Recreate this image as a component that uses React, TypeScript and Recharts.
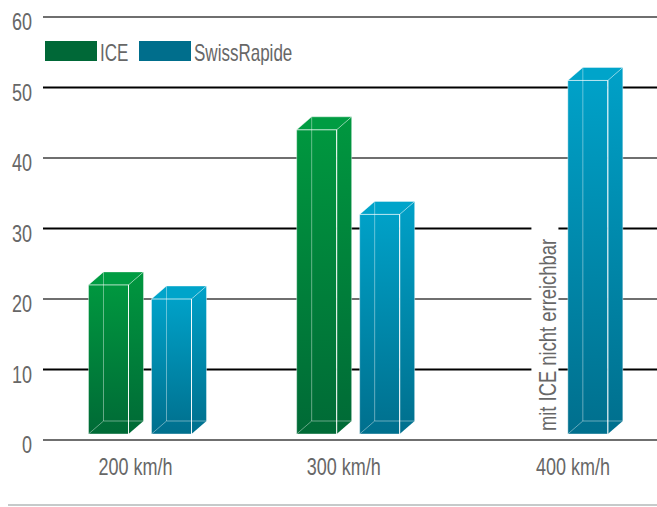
import React from "react";
import {
  BarChart,
  Bar,
  XAxis,
  YAxis,
  CartesianGrid,
  Legend,
  ReferenceLine,
} from "recharts";

const speeds = ["200 km/h", "300 km/h", "400 km/h"];
const iceValues = [22, 44, null];
const swissRapideValues = [20, 32, 51];
const yTicks = [0, 10, 20, 30, 40, 50, 60];
const noteText = "mit ICE nicht erreichbar";

const data = speeds.map((speed, i) => ({
  speed,
  ice: iceValues[i],
  swissRapide: swissRapideValues[i],
}));

// no condensed font installed, so Liberation Sans gets squeezed horizontally
const FONT = "'Liberation Sans', Arial, sans-serif";
const SQUEEZE = 0.75;
const TEXT_GREY = "#676767";

const SERIES = [
  {
    key: "ice",
    name: "ICE",
    swatch: "#006837",
    top: "#00973f",
    bottom: "#006a36",
    lid: "#009c42",
  },
  {
    key: "swissRapide",
    name: "SwissRapide",
    swatch: "#006e8c",
    top: "#00a1c8",
    bottom: "#006f8d",
    lid: "#00a4ca",
  },
];

// 3d box look
const DEPTH_X = 15;
const DEPTH_Y = 13;
const FLOOR_GAP = 6;
// x labels are not quite centred in the original
const TICK_SHIFT = [-4, -4, 17];

const NarrowText = ({
  x,
  y,
  size,
  anchor = "start",
  rotate = 0,
  squeeze = SQUEEZE,
  baseline,
  children,
}: any) => (
  <text
    transform={`translate(${x},${y}) rotate(${rotate}) scale(${squeeze},1)`}
    textAnchor={anchor}
    dominantBaseline={baseline}
    fill={TEXT_GREY}
    fontSize={size}
    fontFamily={FONT}
  >
    {children}
  </text>
);

function makeBoxShape(key: string, lid: string) {
  return (props: any) => {
    const { x, y, width, height, payload } = props;
    if (payload?.[key] == null || !(height > 0)) return <g />;
    const left = x;
    const right = x + width;
    const top = y;
    const bottom = y + height - FLOOR_GAP;
    const bx = DEPTH_X;
    const by = -DEPTH_Y;
    return (
      <g>
        <polygon
          points={`${right},${top} ${right + bx},${top + by} ${right + bx},${bottom + by} ${right},${bottom}`}
          fill={`url(#side-${key})`}
        />
        <rect
          x={left}
          y={top}
          width={width}
          height={bottom - top}
          fill={`url(#front-${key})`}
        />
        <polygon
          points={`${left},${top} ${left + bx},${top + by} ${right + bx},${top + by} ${right},${top}`}
          fill={lid}
        />
        <g stroke="#ffffff" strokeOpacity={0.4} strokeWidth={1} fill="none">
          <polyline
            points={`${left},${bottom} ${left + bx},${bottom + by} ${right + bx},${bottom + by}`}
          />
          <line x1={left + bx} y1={top + by} x2={left + bx} y2={bottom + by} />
          <polygon
            points={`${left},${top} ${left + bx},${top + by} ${right + bx},${top + by} ${right},${top}`}
          />
          <line x1={right + bx} y1={top + by} x2={right + bx} y2={bottom + by} />
          <rect x={left} y={top} width={width} height={bottom - top} />
        </g>
        <line
          x1={right}
          y1={top}
          x2={right}
          y2={bottom}
          stroke="#ffffff"
          strokeOpacity={0.9}
        />
      </g>
    );
  };
}

const YTick = (props: any) => {
  const { x, y, payload } = props;
  return (
    <NarrowText x={x} y={y + 5} size={24} anchor="end" baseline="central">
      {payload.value}
    </NarrowText>
  );
};

const XTick = (props: any) => {
  const { x, y, payload, index } = props;
  return (
    <NarrowText x={x + (TICK_SHIFT[index] ?? 0)} y={y + 35} size={24} anchor="middle">
      {payload.value}
    </NarrowText>
  );
};

const NoteLabel = (props: any) => {
  const { x, y, height } = props.viewBox;
  const bottom = y + height;
  return (
    <g>
      <rect x={x - 24.5} y={bottom - 222} width={27} height={218} fill="#ffffff" />
      <NarrowText x={x} y={bottom - 105} size={23} anchor="middle" rotate={-90} squeeze={0.8}>
        {noteText}
      </NarrowText>
    </g>
  );
};

const LegendRow = () => (
  <svg width={400} height={24} style={{ display: "block" }}>
    {SERIES.map((s, i) => (
      <g key={s.key} transform={`translate(${i * 94},0)`}>
        <rect x={0} y={0} width={52} height={20} fill={s.swatch} />
        <NarrowText x={55} y={20} size={23} squeeze={0.74}>
          {s.name}
        </NarrowText>
      </g>
    ))}
  </svg>
);

export default function App() {
  return (
    <div
      style={{
        position: "absolute",
        left: 0,
        top: 0,
        width: 657,
        height: 507,
        overflow: "hidden",
        background: "#ffffff",
      }}
    >
      <BarChart
        width={660}
        height={507}
        data={data}
        margin={{ top: 17, right: 0, bottom: 0, left: 0 }}
        barSize={40}
        barGap={23}
      >
        <defs>
          {SERIES.map((s) => (
            <linearGradient key={`f-${s.key}`} id={`front-${s.key}`} x1="0" y1="0" x2="0" y2="1">
              <stop offset="0%" stopColor={s.top} />
              <stop offset="100%" stopColor={s.bottom} />
            </linearGradient>
          ))}
          {SERIES.map((s) => (
            <linearGradient key={`s-${s.key}`} id={`side-${s.key}`} x1="0" y1="0" x2="0" y2="1">
              <stop offset="0%" stopColor={s.top} />
              <stop offset="100%" stopColor={s.bottom} />
            </linearGradient>
          ))}
        </defs>
        <CartesianGrid
          vertical={false}
          horizontal={(p: any) => (
            <line
              key={p.key}
              x1={p.x1 + 7.5}
              y1={p.y1}
              x2={p.x2}
              y2={p.y2}
              stroke={p.index % 2 === 0 ? "#6f6f6f" : "#000000"}
              strokeWidth={2}
            />
          )}
        />
        <XAxis
          dataKey="speed"
          height={67}
          axisLine={false}
          tickLine={false}
          tickSize={0}
          tickMargin={0}
          interval={0}
          tick={<XTick />}
        />
        <YAxis
          domain={[0, 60]}
          ticks={yTicks}
          width={35.5}
          axisLine={false}
          tickLine={false}
          tickSize={0}
          tickMargin={3.5}
          tick={<YTick />}
        />
        <Legend
          layout="vertical"
          align="center"
          verticalAlign="middle"
          wrapperStyle={{ left: 45, top: 41, width: 400, height: 24 }}
          content={() => <LegendRow />}
        />
        <ReferenceLine
          x="400 km/h"
          stroke="none"
          label={(p: any) => <NoteLabel {...p} />}
        />
        {SERIES.map((s) => (
          <Bar
            key={s.key}
            dataKey={s.key}
            name={s.name}
            fill={s.swatch}
            isAnimationActive={false}
            shape={makeBoxShape(s.key, s.lid)}
          />
        ))}
      </BarChart>
      <div
        style={{
          position: "absolute",
          left: 8,
          top: 504,
          width: 649,
          height: 2,
          background: "#c6caca",
        }}
      />
    </div>
  );
}
